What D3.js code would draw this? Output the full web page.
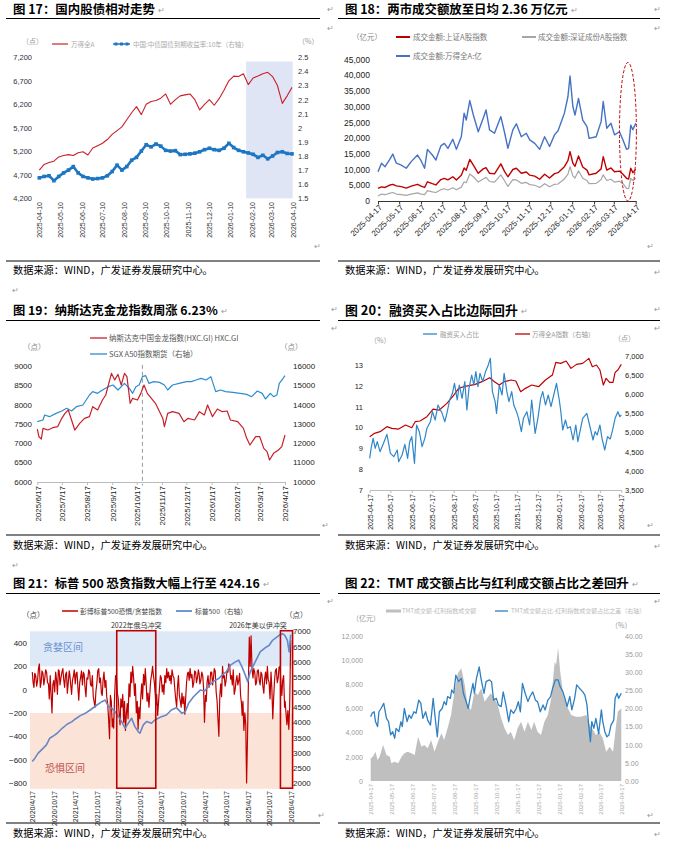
<!DOCTYPE html>
<html><head><meta charset="utf-8">
<script src="https://cdn.jsdelivr.net/npm/d3@7/dist/d3.min.js"></script>
<style>html,body{margin:0;padding:0;background:#fff;}svg{display:block;}</style>
</head><body>
<svg id="page" width="677" height="842"></svg>
<script>
// ================= DATA =================
const SOURCE = "数据来源：WIND，广发证券发展研究中心。";
const titles = [
  "图 17：国内股债相对走势",
  "图 18：两市成交额放至日均 2.36 万亿元",
  "图 19：纳斯达克金龙指数周涨 6.23%",
  "图 20：融资买入占比边际回升",
  "图 21：标普 500 恐贪指数大幅上行至 424.16",
  "图 22：TMT 成交额占比与红利成交额占比之差回升"
];

// --- Fig 17 ---
const c17Ticks = ["2025-04-10","2025-05-10","2025-06-10","2025-07-10","2025-08-10","2025-09-10","2025-10-10","2025-11-10","2025-12-10","2026-01-10","2026-02-10","2026-03-10","2026-04-10"];
const c17LeftTicks = [4200,4700,5200,5700,6200,6700,7200];
const c17RightTicks = [1.5,1.6,1.7,1.8,1.9,2,2.1,2.2,2.3,2.4,2.5];
const c17Dates = ["2025-04-10","2025-04-17","2025-04-24","2025-05-01","2025-05-08","2025-05-15","2025-05-22","2025-05-29","2025-06-05","2025-06-12","2025-06-19","2025-06-26","2025-07-03","2025-07-10","2025-07-17","2025-07-24","2025-07-31","2025-08-07","2025-08-14","2025-08-21","2025-08-28","2025-09-04","2025-09-11","2025-09-18","2025-09-25","2025-10-02","2025-10-09","2025-10-16","2025-10-23","2025-10-30","2025-11-06","2025-11-13","2025-11-20","2025-11-27","2025-12-04","2025-12-11","2025-12-18","2025-12-25","2026-01-01","2026-01-08","2026-01-15","2026-01-22","2026-01-29","2026-02-05","2026-02-12","2026-02-19","2026-02-26","2026-03-05","2026-03-12","2026-03-19","2026-03-26","2026-04-02","2026-04-09"];
const c17Wind = [4800,4920,4960,4990,5080,5110,5130,5110,5170,5190,5120,5270,5320,5370,5450,5560,5640,5720,5870,6020,6150,5980,6200,6260,6280,6330,6420,6200,6300,6380,6400,6420,6300,6080,6200,6300,6180,6320,6500,6700,6800,6790,6850,6620,6760,6800,6850,6880,6790,6600,6220,6380,6560];
const c17Bond = [1.645,1.655,1.66,1.625,1.655,1.68,1.70,1.725,1.68,1.655,1.645,1.637,1.64,1.645,1.66,1.69,1.735,1.70,1.725,1.77,1.79,1.835,1.88,1.865,1.885,1.87,1.84,1.835,1.838,1.81,1.812,1.815,1.82,1.83,1.845,1.855,1.845,1.84,1.855,1.89,1.86,1.84,1.83,1.822,1.812,1.79,1.805,1.78,1.80,1.825,1.83,1.818,1.815];
const c17Shade = ["2026-02-02","2026-04-10"];

// --- shared monthly ticks (Fig 18, 20, 22) ---
const month17Ticks = ["2025-04-17","2025-05-17","2025-06-17","2025-07-17","2025-08-17","2025-09-17","2025-10-17","2025-11-17","2025-12-17","2026-01-17","2026-02-17","2026-03-17","2026-04-17"];

// --- Fig 18 ---
const c18LeftTicks = [0,5000,10000,15000,20000,25000,30000,35000,40000,45000];
const c18Dates = ["2025-04-17","2025-04-22","2025-04-27","2025-05-03","2025-05-08","2025-05-13","2025-05-20","2025-05-27","2025-06-03","2025-06-12","2025-06-17","2025-06-22","2025-06-26","2025-07-03","2025-07-08","2025-07-15","2025-07-20","2025-07-25","2025-08-01","2025-08-06","2025-08-13","2025-08-17","2025-08-20","2025-08-25","2025-08-30","2025-09-06","2025-09-13","2025-09-17","2025-09-22","2025-09-29","2025-10-08","2025-10-13","2025-10-18","2025-10-25","2025-10-30","2025-11-06","2025-11-13","2025-11-18","2025-11-25","2025-12-02","2025-12-09","2025-12-16","2025-12-23","2025-12-28","2026-01-06","2026-01-11","2026-01-14","2026-01-18","2026-01-21","2026-01-26","2026-02-01","2026-02-07","2026-02-10","2026-02-20","2026-02-27","2026-03-02","2026-03-07","2026-03-13","2026-03-18","2026-03-25","2026-03-30","2026-04-04","2026-04-07","2026-04-10","2026-04-13","2026-04-17"];
const c18Total = [9300,12000,10900,13000,14900,12000,11400,10400,12500,14600,12800,10400,16400,14600,13000,17500,18300,16700,19600,16400,20400,27900,25700,31900,27300,22000,26300,28900,22600,21500,26800,22000,16700,22600,24500,20400,21500,19400,18300,16400,20400,17300,21000,22300,27900,33100,39700,30000,27300,32600,25700,23600,19900,20400,25200,31600,23100,24700,21000,22000,19400,16400,16700,24100,22600,24700];
const c18SH = [4000,4500,4300,5000,5300,4800,4550,4100,4700,5300,4700,4300,6100,5500,5100,6800,7200,6700,7700,6700,8200,10500,9800,13200,11400,8800,10200,10600,8800,8600,11800,9500,7700,10000,10400,8800,9200,8200,7900,6900,8500,7300,8700,9000,10900,12800,15700,12000,11000,14300,10800,9800,8300,8800,10200,14100,9800,10500,9300,9500,8500,7200,7000,10400,9000,10100];
const c18SZ = [1600,2200,2000,2400,2700,2200,2000,1800,2200,2600,2200,2000,3300,2900,2700,3600,3900,3500,4200,3600,4400,6100,5800,8600,7700,6000,7000,7500,6200,6000,8300,6500,4600,6800,6700,5600,5900,5200,5000,4300,5500,4500,5300,5400,7000,8500,10900,8000,7300,9600,7200,6500,5500,5600,6800,8300,6500,6900,6000,6300,5500,4000,3900,7200,6500,7200];
const c18Ellipse = {dates: ["2026-03-25","2026-04-18"], values: [0, 44000]};

// --- Fig 19 ---
const c19Ticks = ["2025-06-17","2025-07-17","2025-08-17","2025-09-17","2025-10-17","2025-11-17","2025-12-17","2026-01-17","2026-02-17","2026-03-17","2026-04-17"];
const c19TickLabels = ["2025/6/17","2025/7/17","2025/8/17","2025/9/17","2025/10/17","2025/11/17","2025/12/17","2026/1/17","2026/2/17","2026/3/17","2026/4/17"];
const c19LeftTicks = [6000,6500,7000,7500,8000,8500,9000];
const c19RightTicks = [10000,11000,12000,13000,14000,15000,16000];
const c19Marker = "2025-10-24";
const c19Hxc = [["2025-06-17",7366],["2025-06-19",7167],["2025-06-22",7107],["2025-06-24",7383],["2025-06-30",7340],["2025-07-06",7400],["2025-07-12",7427],["2025-07-17",7643],["2025-07-21",7772],["2025-07-25",7860],["2025-07-29",7600],["2025-08-02",7340],["2025-08-08",7513],["2025-08-14",7643],["2025-08-20",7686],["2025-08-24",7945],["2025-08-30",7860],["2025-09-05",8118],["2025-09-09",8248],["2025-09-16",8810],["2025-09-20",8637],["2025-09-24",8784],["2025-09-28",8507],["2025-10-02",8810],["2025-10-05",8724],["2025-10-09",8032],["2025-10-12",8162],["2025-10-18",8118],["2025-10-22",8290],["2025-10-26",8507],["2025-10-30",8290],["2025-11-04",8162],["2025-11-09",8032],["2025-11-13",7860],["2025-11-18",7643],["2025-11-20",7427],["2025-11-24",7772],["2025-11-30",7816],["2025-12-08",7772],["2025-12-14",7556],["2025-12-19",7643],["2025-12-27",7600],["2026-01-02",7816],["2026-01-08",7730],["2026-01-12",7989],["2026-01-18",7686],["2026-01-24",7885],["2026-01-30",7816],["2026-02-05",7833],["2026-02-09",7600],["2026-02-18",7556],["2026-02-25",7383],["2026-03-01",7124],["2026-03-05",6951],["2026-03-12",7167],["2026-03-17",7167],["2026-03-22",6865],["2026-03-26",6778],["2026-03-29",6562],["2026-04-03",6735],["2026-04-09",6821],["2026-04-13",6908],["2026-04-17",7210]];
const c19A50 = [["2025-06-17",13112],["2025-06-24",13199],["2025-06-26",13458],["2025-07-02",13372],["2025-07-10",13545],["2025-07-17",13666],["2025-07-23",13804],["2025-07-29",13666],["2025-08-04",13890],["2025-08-12",13977],["2025-08-20",14495],["2025-08-24",14668],["2025-08-30",14582],["2025-09-05",14755],["2025-09-12",14928],["2025-09-18",15014],["2025-09-24",14755],["2025-10-02",15100],["2025-10-08",14841],["2025-10-12",14582],["2025-10-16",14928],["2025-10-20",15014],["2025-10-24",15446],["2025-10-28",15498],["2025-11-01",15100],["2025-11-07",15187],["2025-11-14",15152],["2025-11-20",15014],["2025-11-24",14755],["2025-11-30",15014],["2025-12-08",15100],["2025-12-17",15187],["2025-12-23",15187],["2025-12-29",15273],["2026-01-04",15360],["2026-01-10",15273],["2026-01-16",15446],["2026-01-22",14668],["2026-01-28",14755],["2026-02-03",14668],["2026-02-12",14634],["2026-02-21",14582],["2026-03-01",14530],["2026-03-07",14409],["2026-03-14",14703],["2026-03-20",14582],["2026-03-24",14288],["2026-03-30",14582],["2026-04-03",14409],["2026-04-07",14495],["2026-04-10",15100],["2026-04-14",15325],["2026-04-17",15498]];

// --- Fig 20 ---
const c20LeftTicks = [7,8,9,10,11,12,13];
const c20RightTicks = [3500,4000,4500,5000,5500,6000,6500,7000];
const c20Margin = [["2025-04-17",8.52],["2025-04-19",9.0],["2025-04-22",9.48],["2025-04-25",9.0],["2025-04-28",9.32],["2025-05-02",8.84],["2025-05-07",9.24],["2025-05-12",9.67],["2025-05-14",9.32],["2025-05-17",8.76],["2025-05-22",8.6],["2025-05-27",8.92],["2025-05-29",8.36],["2025-06-03",8.68],["2025-06-07",9.19],["2025-06-11",8.52],["2025-06-14",9.32],["2025-06-17",9.56],["2025-06-21",8.28],["2025-06-24",10.12],["2025-06-28",9.8],["2025-07-02",9.08],["2025-07-06",9.48],["2025-07-09",9.96],["2025-07-14",10.28],["2025-07-17",10.76],["2025-07-21",10.36],["2025-07-25",11.08],["2025-07-31",10.68],["2025-08-04",10.28],["2025-08-07",10.68],["2025-08-11",11.32],["2025-08-15",11.64],["2025-08-18",12.12],["2025-08-22",11.32],["2025-08-25",12.04],["2025-08-29",11.4],["2025-09-02",12.2],["2025-09-05",10.84],["2025-09-08",11.88],["2025-09-12",12.52],["2025-09-15",12.04],["2025-09-18",12.68],["2025-09-21",11.96],["2025-09-24",12.6],["2025-09-28",12.2],["2025-10-02",12.68],["2025-10-06",13.0],["2025-10-09",13.32],["2025-10-12",11.72],["2025-10-16",11.24],["2025-10-18",10.68],["2025-10-22",12.04],["2025-10-26",11.56],["2025-10-29",12.6],["2025-11-02",11.72],["2025-11-05",11.24],["2025-11-09",11.72],["2025-11-12",11.08],["2025-11-16",10.76],["2025-11-19",10.44],["2025-11-23",9.8],["2025-11-26",10.44],["2025-12-01",10.76],["2025-12-05",10.12],["2025-12-08",11.32],["2025-12-13",9.72],["2025-12-17",10.44],["2025-12-21",11.4],["2025-12-24",11.72],["2025-12-28",11.08],["2026-01-01",11.56],["2026-01-05",11.0],["2026-01-09",11.56],["2026-01-13",12.12],["2026-01-17",11.32],["2026-01-19",10.84],["2026-01-22",9.88],["2026-01-26",10.36],["2026-01-29",9.96],["2026-02-02",10.04],["2026-02-06",9.4],["2026-02-10",10.12],["2026-02-13",9.32],["2026-02-17",9.96],["2026-02-20",10.44],["2026-02-26",10.68],["2026-03-02",10.12],["2026-03-07",9.4],["2026-03-10",9.8],["2026-03-13",9.64],["2026-03-17",10.12],["2026-03-20",9.48],["2026-03-24",8.92],["2026-03-28",9.56],["2026-04-01",9.45],["2026-04-04",9.83],["2026-04-08",10.44],["2026-04-12",10.76],["2026-04-15",10.52],["2026-04-17",10.6]];
const c20Wind = [["2025-04-17",4890],["2025-04-24",4976],["2025-05-02",5020],["2025-05-12",5150],["2025-05-19",5107],["2025-05-29",5089],["2025-06-08",5194],["2025-06-17",5124],["2025-06-22",5280],["2025-06-29",5298],["2025-07-09",5411],["2025-07-18",5610],["2025-07-27",5584],["2025-08-07",5758],["2025-08-17",5975],["2025-08-24",6149],["2025-08-31",6192],["2025-09-08",6218],["2025-09-17",6253],["2025-09-27",6323],["2025-10-08",6427],["2025-10-15",6323],["2025-10-22",6236],["2025-10-29",6323],["2025-11-08",6366],["2025-11-15",6340],["2025-11-22",6062],["2025-11-29",6149],["2025-12-08",6236],["2025-12-18",6192],["2025-12-28",6366],["2026-01-07",6496],["2026-01-12",6826],["2026-01-19",6800],["2026-01-27",6861],["2026-02-03",6670],["2026-02-11",6774],["2026-02-20",6800],["2026-03-01",6930],["2026-03-06",6713],["2026-03-12",6757],["2026-03-17",6627],["2026-03-22",6236],["2026-03-26",6410],["2026-03-31",6305],["2026-04-05",6305],["2026-04-08",6566],["2026-04-12",6627],["2026-04-17",6774]];

// --- Fig 21 ---
const c21Ticks = ["2020-04-17","2020-10-17","2021-04-17","2021-10-17","2022-04-17","2022-10-17","2023-04-17","2023-10-17","2024-04-17","2024-10-17","2025-04-17","2025-10-17","2026-04-17"];
const c21TickLabels = ["2020/4/17","2020/10/17","2021/4/17","2021/10/17","2022/4/17","2022/10/17","2023/4/17","2023/10/17","2024/4/17","2024/10/17","2025/4/17","2025/10/17","2026/4/17"];
const c21LeftTicks = [-800,-600,-400,-200,0,200,400];
const c21RightTicks = [2000,2500,3000,3500,4000,4500,5000,5500,6000,6500,7000];
const c21GreedBand = [200, 500];
const c21FearBand = [-850, -200];
const c21Boxes = [["2022-04-03","2023-02-28"],["2026-01-20","2026-05-03"]];
const c21Events = ["2022年俄乌冲突","2026年美以伊冲突"];
const c21FG = [
["2020-04-17",150],["2020-04-24",60],["2020-05-01",20],["2020-05-08",140],["2020-05-16",120],["2020-05-24",30],["2020-06-01",80],["2020-06-08",180],["2020-06-16",220],["2020-06-24",20],["2020-07-01",60],["2020-07-08",160],["2020-07-16",140],["2020-07-24",40],["2020-08-01",100],["2020-08-08",170],["2020-08-16",150],["2020-08-24",60],["2020-09-01",50],["2020-09-08",-80],["2020-09-16",120],["2020-09-24",-60],["2020-10-01",-200],["2020-10-08",40],["2020-10-16",80],["2020-10-24",-20],["2020-11-01",150],["2020-11-08",90],["2020-11-16",-40],["2020-11-24",170],["2020-12-01",160],["2020-12-08",40],["2020-12-16",100],["2020-12-24",150],
["2021-01-01",180],["2021-01-08",90],["2021-01-16",20],["2021-01-24",130],["2021-02-01",150],["2021-02-08",-30],["2021-02-16",60],["2021-02-24",160],["2021-03-01",130],["2021-03-08",50],["2021-03-16",-40],["2021-03-24",80],["2021-04-01",120],["2021-04-08",170],["2021-04-16",50],["2021-04-24",140],["2021-05-01",150],["2021-05-08",30],["2021-05-16",-90],["2021-05-24",60],["2021-06-01",110],["2021-06-08",160],["2021-06-16",40],["2021-06-24",150],["2021-07-01",130],["2021-07-08",20],["2021-07-16",-60],["2021-07-24",100],["2021-08-01",90],["2021-08-08",170],["2021-08-16",150],["2021-08-24",40],["2021-09-01",30],["2021-09-08",120],["2021-09-16",-60],["2021-09-24",-110],["2021-10-01",-150],["2021-10-08",-20],["2021-10-16",50],["2021-10-24",160],["2021-11-01",180],["2021-11-08",60],["2021-11-16",100],["2021-11-24",-30],["2021-12-01",-50],["2021-12-08",80],["2021-12-16",150],["2021-12-24",20],
["2022-01-01",80],["2022-01-08",-60],["2022-01-16",-120],["2022-01-24",-250],["2022-02-01",-420],["2022-02-08",-50],["2022-02-16",-100],["2022-02-24",-320],["2022-03-01",-250],["2022-03-08",-330],["2022-03-16",-50],["2022-03-24",120],["2022-04-01",100],["2022-04-08",-30],["2022-04-16",-80],["2022-04-24",-220],["2022-05-01",-300],["2022-05-08",-80],["2022-05-16",-150],["2022-05-24",-40],["2022-06-01",-280],["2022-06-08",-100],["2022-06-16",-350],["2022-06-24",-200],["2022-07-01",-120],["2022-07-08",-250],["2022-07-16",50],["2022-07-24",-60],["2022-08-01",150],["2022-08-08",60],["2022-08-16",200],["2022-08-24",100],["2022-09-01",-50],["2022-09-08",50],["2022-09-16",-200],["2022-09-24",-100],["2022-10-01",-340],["2022-10-08",-150],["2022-10-16",-250],["2022-10-24",-60],["2022-11-01",50],["2022-11-08",-80],["2022-11-16",130],["2022-11-24",40],["2022-12-01",180],["2022-12-08",60],["2022-12-16",-100],["2022-12-24",-30],
["2023-01-01",-150],["2023-01-08",-40],["2023-01-16",80],["2023-01-24",130],["2023-02-01",200],["2023-02-08",120],["2023-02-16",60],["2023-02-24",-50],["2023-03-01",-130],["2023-03-08",-40],["2023-03-16",-220],["2023-03-24",-100],["2023-04-01",20],["2023-04-08",120],["2023-04-16",100],["2023-04-24",-20],["2023-05-01",40],["2023-05-08",-40],["2023-05-16",120],["2023-05-24",60],["2023-06-01",180],["2023-06-08",100],["2023-06-16",150],["2023-06-24",80],["2023-07-01",120],["2023-07-08",50],["2023-07-16",170],["2023-07-24",120],["2023-08-01",100],["2023-08-08",10],["2023-08-16",-80],["2023-08-24",-150],["2023-09-01",30],["2023-09-08",120],["2023-09-16",-50],["2023-09-24",-100],["2023-10-01",-150],["2023-10-08",-30],["2023-10-16",-120],["2023-10-24",-60],["2023-11-01",-210],["2023-11-08",-80],["2023-11-16",60],["2023-11-24",140],["2023-12-01",150],["2023-12-08",80],["2023-12-16",180],["2023-12-24",100],
["2024-01-01",130],["2024-01-08",20],["2024-01-16",60],["2024-01-24",160],["2024-02-01",150],["2024-02-08",60],["2024-02-16",100],["2024-02-24",170],["2024-03-01",140],["2024-03-08",50],["2024-03-16",80],["2024-03-24",150],["2024-04-01",120],["2024-04-08",20],["2024-04-16",-280],["2024-04-24",-50],["2024-05-01",-100],["2024-05-08",60],["2024-05-16",120],["2024-05-24",20],["2024-06-01",60],["2024-06-08",150],["2024-06-16",150],["2024-06-24",40],["2024-07-01",100],["2024-07-08",180],["2024-07-16",160],["2024-07-24",-20],["2024-08-01",-100],["2024-08-08",-250],["2024-08-16",-400],["2024-08-24",-50],["2024-09-01",50],["2024-09-08",-60],["2024-09-16",200],["2024-09-24",100],["2024-10-01",120],["2024-10-08",30],["2024-10-16",80],["2024-10-24",160],["2024-11-01",150],["2024-11-08",220],["2024-11-16",200],["2024-11-24",90],["2024-12-01",120],["2024-12-08",40],["2024-12-16",170],["2024-12-24",-40],
["2025-01-01",0],["2025-01-08",70],["2025-01-16",120],["2025-01-24",40],["2025-02-01",80],["2025-02-08",140],["2025-02-16",-50],["2025-02-24",-120],["2025-03-01",-220],["2025-03-08",-100],["2025-03-16",-350],["2025-03-24",-200],["2025-04-01",-300],["2025-04-08",-800],["2025-04-16",-400],["2025-04-24",100],["2025-05-01",450],["2025-05-08",200],["2025-05-16",460],["2025-05-24",180],["2025-06-01",100],["2025-06-08",180],["2025-06-16",150],["2025-06-24",40],["2025-07-01",60],["2025-07-08",160],["2025-07-16",170],["2025-07-24",80],["2025-08-01",40],["2025-08-08",150],["2025-08-16",130],["2025-08-24",30],["2025-09-01",-30],["2025-09-08",90],["2025-09-16",150],["2025-09-24",50],["2025-10-01",200],["2025-10-08",90],["2025-10-16",60],["2025-10-24",-80],["2025-11-01",150],["2025-11-08",20],["2025-11-16",-250],["2025-11-24",-60],["2025-12-01",80],["2025-12-08",160],["2025-12-16",180],["2025-12-24",60],
["2026-01-01",100],["2026-01-08",190],["2026-01-16",200],["2026-01-24",50],["2026-02-01",-50],["2026-02-08",80],["2026-02-16",120],["2026-02-24",-150],["2026-03-01",-100],["2026-03-08",-200],["2026-03-16",-300],["2026-03-24",-180],["2026-04-01",-340],["2026-04-08",-150],["2026-04-17",424.16]];
const c21SPX = [["2020-04-17",2711],["2020-05-09",2820],["2020-06-06",2985],["2020-07-04",3094],["2020-08-15",3258],["2020-09-12",3477],["2020-10-17",3564],["2020-11-14",3641],["2020-12-26",3805],["2021-02-06",3937],["2021-03-20",4024],["2021-04-17",4111],["2021-05-29",4221],["2021-07-10",4297],["2021-08-21",4407],["2021-10-17",4571],["2021-11-28",4680],["2021-12-26",4735],["2022-01-23",4516],["2022-02-20",4461],["2022-03-20",4352],["2022-04-17",4188],["2022-05-15",4024],["2022-06-12",3805],["2022-07-10",3969],["2022-08-07",4133],["2022-09-04",3860],["2022-10-02",3695],["2022-10-17",3641],["2022-11-14",3915],["2022-12-12",4024],["2023-01-23",3969],["2023-02-20",4078],["2023-04-17",4188],["2023-05-29",4243],["2023-07-10",4407],["2023-08-21",4483],["2023-10-08",4297],["2023-11-05",4352],["2023-12-03",4626],["2024-01-14",4844],["2024-03-11",5063],["2024-04-17",5030],["2024-05-23",5205],["2024-07-04",5359],["2024-08-15",5446],["2024-09-12",5556],["2024-10-17",5665],["2024-11-22",5884],["2025-01-03",5993],["2025-01-31",6048],["2025-02-28",5829],["2025-03-28",5556],["2025-04-17",5337],["2025-05-09",5665],["2025-06-20",5993],["2025-08-01",6321],["2025-09-12",6453],["2025-10-17",6540],["2025-11-14",6704],["2025-12-12",6781],["2026-01-09",6868],["2026-02-06",6923],["2026-02-26",6868],["2026-03-20",6704],["2026-04-04",6321],["2026-04-17",6890]];

// --- Fig 22 ---
const c22LeftTicks = [0,2000,4000,6000,8000,10000,12000];
const c22RightTicks = [0,5,10,15,20,25,30,35,40];
const c22Diff = [["2025-04-17",1876],["2025-04-20",2014],["2025-04-24",2428],["2025-04-27",1738],["2025-04-30",2014],["2025-05-05",2980],["2025-05-10",2152],["2025-05-15",2014],["2025-05-17",1462],["2025-05-22",1600],["2025-05-27",1462],["2025-06-01",2014],["2025-06-05",2290],["2025-06-10",2428],["2025-06-15",2290],["2025-06-20",2152],["2025-06-25",3669],["2025-06-30",2842],["2025-07-04",2980],["2025-07-09",2704],["2025-07-14",3394],["2025-07-19",2428],["2025-07-24",3256],["2025-07-29",3945],["2025-08-02",3394],["2025-08-07",4359],["2025-08-12",5463],["2025-08-17",7394],["2025-08-22",8911],["2025-08-27",9325],["2025-09-01",7946],["2025-09-05",6290],["2025-09-10",5877],["2025-09-15",7394],["2025-09-20",7118],["2025-09-25",7670],["2025-09-30",6566],["2025-10-05",6980],["2025-10-09",7256],["2025-10-14",6842],["2025-10-19",6290],["2025-10-24",5187],["2025-10-29",4359],["2025-11-03",3807],["2025-11-07",4083],["2025-11-12",3394],["2025-11-17",4359],["2025-11-22",4911],["2025-11-27",4083],["2025-12-02",4911],["2025-12-07",4221],["2025-12-11",4911],["2025-12-16",4083],["2025-12-21",3807],["2025-12-26",4911],["2025-12-31",5463],["2026-01-05",6842],["2026-01-10",9877],["2026-01-12",9601],["2026-01-15",11036],["2026-01-18",9049],["2026-01-22",7394],["2026-01-27",6290],["2026-02-03",5463],["2026-02-10",5325],["2026-02-17",5325],["2026-02-25",5463],["2026-03-02",4635],["2026-03-07",4221],["2026-03-11",3807],["2026-03-16",4083],["2026-03-21",3532],["2026-03-26",2428],["2026-03-31",2842],["2026-04-05",2428],["2026-04-07",3394],["2026-04-10",4911],["2026-04-12",5739],["2026-04-17",6015]];
const c22Share = [["2025-04-17",17.75],["2025-04-19",18.67],["2025-04-22",19.1],["2025-04-24",16.4],["2025-04-27",15.0],["2025-04-29",19.1],["2025-05-02",20.0],["2025-05-06",21.4],["2025-05-10",17.3],["2025-05-13",16.4],["2025-05-16",12.7],["2025-05-19",13.6],["2025-05-22",11.8],["2025-05-24",14.5],["2025-05-28",13.6],["2025-05-31",16.4],["2025-06-02",15.0],["2025-06-05",20.0],["2025-06-09",16.4],["2025-06-12",18.2],["2025-06-15",17.3],["2025-06-19",19.1],["2025-06-22",18.67],["2025-06-26",22.3],["2025-06-29",21.4],["2025-07-02",17.3],["2025-07-06",19.1],["2025-07-09",16.8],["2025-07-13",15.4],["2025-07-17",22.8],["2025-07-20",17.3],["2025-07-23",12.2],["2025-07-26",19.1],["2025-07-30",20.0],["2025-08-02",21.9],["2025-08-05",21.0],["2025-08-07",23.3],["2025-08-11",22.8],["2025-08-13",25.1],["2025-08-16",24.2],["2025-08-19",29.2],["2025-08-23",27.4],["2025-08-27",28.3],["2025-08-30",24.2],["2025-09-03",21.9],["2025-09-06",20.0],["2025-09-09",23.3],["2025-09-13",26.9],["2025-09-15",24.2],["2025-09-18",28.3],["2025-09-22",31.5],["2025-09-25",27.9],["2025-09-29",24.2],["2025-10-02",27.4],["2025-10-07",27.9],["2025-10-10",27.4],["2025-10-13",22.3],["2025-10-17",22.8],["2025-10-20",21.0],["2025-10-24",20.5],["2025-10-27",24.6],["2025-10-31",21.0],["2025-11-04",16.4],["2025-11-07",19.6],["2025-11-11",18.67],["2025-11-15",20.0],["2025-11-18",21.9],["2025-11-21",19.1],["2025-11-24",26.9],["2025-11-28",24.2],["2025-12-02",21.9],["2025-12-05",23.3],["2025-12-09",24.6],["2025-12-13",22.3],["2025-12-16",21.9],["2025-12-20",19.1],["2025-12-24",21.0],["2025-12-27",19.6],["2025-12-31",22.3],["2026-01-04",23.3],["2026-01-07",25.6],["2026-01-11",27.9],["2026-01-15",27.9],["2026-01-18",26.0],["2026-01-22",24.6],["2026-01-25",22.8],["2026-01-28",20.5],["2026-02-01",23.3],["2026-02-04",19.6],["2026-02-08",22.8],["2026-02-11",26.5],["2026-02-15",25.6],["2026-02-20",24.6],["2026-02-23",23.7],["2026-02-26",21.0],["2026-02-28",16.4],["2026-03-03",10.85],["2026-03-05",16.4],["2026-03-08",14.5],["2026-03-11",17.3],["2026-03-15",13.1],["2026-03-19",19.6],["2026-03-21",16.4],["2026-03-24",13.6],["2026-03-27",12.2],["2026-03-30",12.7],["2026-04-02",15.4],["2026-04-06",16.8],["2026-04-08",22.8],["2026-04-11",24.2],["2026-04-13",22.8],["2026-04-17",24.2]];

// ================= DRAW =================
const svg = d3.select("#page");
const parse = d3.timeParse("%Y-%m-%d");
const SANS = "'Liberation Sans', Arial, sans-serif";
const CJK = "'Noto Sans CJK SC', 'Noto Sans', sans-serif";
const zip = (ds, vs) => ds.map((d, i) => [d, vs[i]]);

function txt(x, y, s, o) {
  o = o || {};
  return svg.append("text").attr("x", x).attr("y", y).text(s)
    .attr("font-family", o.family || CJK).attr("font-size", o.size || 10)
    .attr("font-weight", o.weight || "normal").attr("fill", o.color || "#000")
    .attr("text-anchor", o.anchor || "start")
    .attr("dominant-baseline", o.base || "alphabetic");
}
function rule(x1, x2, y) {
  svg.append("line").attr("x1", x1).attr("x2", x2).attr("y1", y).attr("y2", y)
    .attr("stroke", "#000").attr("stroke-width", 1);
}
function mark(x, y) { txt(x, y, "↵", {size: 8, color: "#999", family: SANS}); }
// fit a text to a target width by adjusting its font size
function fitText(t, base, w) {
  const len = t.node().getComputedTextLength();
  if (len > 0) t.attr("font-size", Math.min(base, base * w / len));
  return t.node().getComputedTextLength();
}
function frame(x1, x2, tY, lY, bY, sY, title, w) {
  const t = txt(x1 + 7, tY, title, {size: 13, weight: "bold"});
  const tw = fitText(t, 13, w);
  mark(x1 + 7 + tw + 3, tY - 1);
  rule(x1, x2, lY);
  rule(x1, x2, bY);
  const s = txt(x1 + 7, sY, SOURCE, {size: 10.5});
  fitText(s, 10.5, 200);
}
function yAxis(scale, ticks, fmt, x, side, o) {
  const a = (side === "left" ? d3.axisLeft(scale) : d3.axisRight(scale))
    .tickValues(ticks).tickFormat(fmt).tickSize(0).tickPadding(0);
  const g = svg.append("g").attr("transform", `translate(${x},0)`).call(a);
  g.select(".domain").remove();
  g.selectAll("text").attr("font-family", SANS).attr("font-size", o.size).attr("fill", o.color);
}
function xAxis(scale, tickDates, labels, y, o) {
  const a = d3.axisBottom(scale).tickValues(tickDates.map(parse))
    .tickFormat((d, i) => labels[i]).tickSize(o.tick || 0).tickSizeOuter(0).tickPadding(0);
  const g = svg.append("g").attr("transform", `translate(0,${y})`).call(a);
  if (o.line) {
    g.select(".domain").attr("stroke", o.line);
    g.selectAll(".tick line").attr("stroke", o.line);
  } else {
    g.select(".domain").remove();
    g.selectAll(".tick line").remove();
  }
  g.selectAll("text").attr("font-family", SANS).attr("font-size", o.size).attr("fill", o.color)
    .attr("text-anchor", "end").attr("transform", `rotate(${o.rot})`)
    .attr("x", o.lx).attr("y", o.ly).attr("dy", "0.35em");
}
function path(data, x, y, color, w) {
  return svg.append("path").datum(data).attr("fill", "none").attr("stroke", color)
    .attr("stroke-width", w).attr("stroke-linejoin", "round")
    .attr("d", d3.line().x(d => x(parse(d[0]))).y(d => y(d[1])));
}
function legLine(x1, x2, y, color, w) {
  svg.append("line").attr("x1", x1).attr("x2", x2).attr("y1", y).attr("y2", y)
    .attr("stroke", color).attr("stroke-width", w);
}

// ---------- Frames ----------
frame(6, 320, 14, 18.5, 261, 274, titles[0], 142);
frame(338, 660, 14, 18.5, 261, 274, titles[1], 223);
frame(6, 320, 315, 320.5, 535, 549, titles[2], 205);
frame(338, 660, 315, 320.5, 535, 549, titles[3], 173);
frame(6, 320, 588, 593.5, 823, 837, titles[4], 247);
frame(338, 660, 588, 593.5, 823, 837, titles[5], 284);
[[327,12],[327,31],[314,249],[654,12],[654,31],[647,249],[654,275],
 [12,293],[331,312],[331,331],[322,528],[654,312],[654,331],[647,528],[654,549],
 [12,568],[327,604],[318,818],[654,604],[647,818],[654,837]]
  .forEach(p => mark(p[0], p[1]));

// ---------- Fig 17 ----------
{
  const x = d3.scaleTime().domain([parse("2025-04-10"), parse("2026-04-10")]).range([39.3, 292.7]);
  const yL = d3.scaleLinear().domain([4200, 7200]).range([198.3, 57.3]);
  const yR = d3.scaleLinear().domain([1.5, 2.5]).range([198.3, 57.3]);
  const s0 = x(parse(c17Shade[0])), s1 = x(parse(c17Shade[1]));
  svg.append("rect").attr("x", s0).attr("width", s1 - s0).attr("y", yR(2.47))
    .attr("height", yR(1.5) - yR(2.47)).attr("fill", "#dfe5f4");
  yAxis(yL, c17LeftTicks, d3.format(","), 32, "left", {size: 7.5, color: "#333"});
  yAxis(yR, c17RightTicks, d => String(d), 298, "right", {size: 7.5, color: "#333"});
  xAxis(x, c17Ticks, c17Ticks, 201, {size: 7, color: "#333", rot: -90, lx: -1, ly: 0});
  path(zip(c17Dates, c17Wind), x, yL, "#c8202a", 1.1);
  const bond = zip(c17Dates, c17Bond);
  path(bond, x, yR, "#1d76c2", 2.6);
  svg.append("g").selectAll("rect").data(bond).join("rect")
    .attr("x", d => x(parse(d[0])) - 1.8).attr("y", d => yR(d[1]) - 1.8)
    .attr("width", 3.6).attr("height", 3.6).attr("fill", "#1d76c2");
  txt(22, 44, "（点）", {size: 7, color: "#999"});
  txt(298, 44, "（%）", {size: 7, color: "#999"});
  legLine(52, 68, 44, "#c8202a", 1.2);
  txt(71, 46.5, "万得全A", {size: 6.5, color: "#aaa"});
  legLine(113, 130, 44, "#1d76c2", 1.5);
  [116, 121.5, 127].forEach(px => svg.append("rect").attr("x", px - 1.5).attr("y", 42.5).attr("width", 3).attr("height", 3).attr("fill", "#1d76c2"));
  txt(133, 46.5, "中国:中债国债到期收益率:10年（右轴）", {size: 6.5, color: "#aaa"});
}

// ---------- Fig 18 ----------
{
  const x = d3.scaleTime().domain([parse("2025-04-17"), parse("2026-04-17")]).range([378, 635.7]);
  const y = d3.scaleLinear().domain([0, 45000]).range([201, 59.3]);
  yAxis(y, c18LeftTicks, d3.format(","), 370, "left", {size: 8.5, color: "#222"});
  xAxis(x, month17Ticks, month17Ticks, 201, {size: 8, color: "#222", rot: -45, lx: -2, ly: 5, line: "#333", tick: 3});
  path(zip(c18Dates, c18SZ), x, y, "#a6a6a6", 1.2);
  path(zip(c18Dates, c18SH), x, y, "#c00000", 1.4);
  path(zip(c18Dates, c18Total), x, y, "#4472c4", 1.4);
  const ex0 = x(parse(c18Ellipse.dates[0])), ex1 = x(parse(c18Ellipse.dates[1]));
  const ey0 = y(c18Ellipse.values[1]), ey1 = y(c18Ellipse.values[0]);
  svg.append("ellipse").attr("cx", (ex0 + ex1) / 2).attr("cy", (ey0 + ey1) / 2)
    .attr("rx", (ex1 - ex0) / 2).attr("ry", (ey1 - ey0) / 2)
    .attr("fill", "none").attr("stroke", "#c00000").attr("stroke-width", 1).attr("stroke-dasharray", "3,2");
  txt(352, 39.5, "（亿元）", {size: 7.5, color: "#888"});
  legLine(396, 410, 37, "#c00000", 2);
  txt(413, 40, "成交金额:上证A股指数", {size: 7.5, color: "#777"});
  legLine(522, 536, 37, "#a6a6a6", 2);
  txt(538, 40, "成交金额:深证成份A股指数", {size: 7.5, color: "#777"});
  legLine(396, 410, 56, "#4472c4", 2);
  txt(413, 59, "成交金额:万得全A:亿", {size: 7.5, color: "#777"});
}

// ---------- Fig 19 ----------
{
  const x = d3.scaleTime().domain([parse("2025-06-17"), parse("2026-04-17")]).range([37.3, 285]);
  const yL = d3.scaleLinear().domain([6000, 9000]).range([481.7, 366]);
  const yR = d3.scaleLinear().domain([10000, 16000]).range([481.7, 366]);
  yAxis(yL, c19LeftTicks, d3.format("d"), 32, "left", {size: 8, color: "#222"});
  yAxis(yR, c19RightTicks, d3.format("d"), 293, "right", {size: 8, color: "#222"});
  xAxis(x, c19Ticks, c19TickLabels, 482, {size: 8, color: "#222", rot: -90, lx: -4, ly: 0, line: "#bbb", tick: 3});
  const mx = x(parse(c19Marker));
  svg.append("line").attr("x1", mx).attr("x2", mx).attr("y1", yL(9030)).attr("y2", yL(5900))
    .attr("stroke", "#999").attr("stroke-width", 1).attr("stroke-dasharray", "4,3");
  path(c19A50, x, yR, "#2e8bd0", 1.2);
  path(c19Hxc, x, yL, "#c8202a", 1.2);
  legLine(90, 107, 338, "#c8202a", 1.3);
  txt(109, 340.5, "纳斯达克中国金龙指数(HXC.GI) HXC.GI", {size: 7.5, color: "#555"});
  legLine(90, 107, 354, "#2e8bd0", 1.3);
  txt(109, 356.5, "SGX A50指数期货（右轴）", {size: 7.5, color: "#555"});
  txt(23, 350, "（点）", {size: 7.5, color: "#888"});
  txt(280, 350, "（点）", {size: 7.5, color: "#888"});
}

// ---------- Fig 20 ----------
{
  const x = d3.scaleTime().domain([parse("2025-04-17"), parse("2026-04-17")]).range([369.7, 621.3]);
  const yL = d3.scaleLinear().domain([7, 13]).range([490, 365]);
  const yR = d3.scaleLinear().domain([3500, 7000]).range([490, 355.7]);
  yAxis(yL, c20LeftTicks, d3.format("d"), 363, "left", {size: 7.5, color: "#222"});
  yAxis(yR, c20RightTicks, d3.format(","), 625, "right", {size: 7.5, color: "#222"});
  xAxis(x, month17Ticks, month17Ticks, 490, {size: 7, color: "#222", rot: -90, lx: -4, ly: 0, line: "#bbb", tick: 3});
  path(c20Wind, x, yR, "#c00000", 1.2);
  path(c20Margin, x, yL, "#2f86c8", 1.2);
  legLine(423, 437, 334, "#2f86c8", 1.3);
  txt(440, 336.5, "融资买入占比", {size: 6.5, color: "#999"});
  legLine(515, 530, 334, "#c00000", 1.3);
  txt(532, 336.5, "万得全A指数（右轴）", {size: 6.5, color: "#999"});
  txt(370, 342.5, "（%）", {size: 7, color: "#999"});
  txt(614, 340.5, "（点）", {size: 7, color: "#999"});
}

// ---------- Fig 21 ----------
{
  const x = d3.scaleTime().domain([parse("2020-04-17"), parse("2026-04-17")]).range([32.3, 290.7]);
  const yL = d3.scaleLinear().domain([-850, 500]).range([788.8, 631.3]);
  const yR = d3.scaleLinear().domain([1810, 7000]).range([788.8, 631.3]);
  const bx0 = 30, bx1 = 293;
  svg.append("rect").attr("x", bx0).attr("width", bx1 - bx0).attr("y", yL(c21GreedBand[1]))
    .attr("height", yL(c21GreedBand[0]) - yL(c21GreedBand[1])).attr("fill", "#dde9f6");
  svg.append("rect").attr("x", bx0).attr("width", bx1 - bx0).attr("y", yL(c21FearBand[1]))
    .attr("height", yL(c21FearBand[0]) - yL(c21FearBand[1])).attr("fill", "#fbe4d7");
  txt(43, 651, "贪婪区间", {size: 10, color: "#6a93d4"});
  txt(45, 772, "恐惧区间", {size: 10, color: "#c0504d"});
  yAxis(yL, c21LeftTicks, d3.format("d"), 27, "left", {size: 8, color: "#222"});
  yAxis(yR, c21RightTicks, d3.format("d"), 293, "right", {size: 8, color: "#222"});
  xAxis(x, c21Ticks, c21TickLabels, 789, {size: 7, color: "#222", rot: -90, lx: -2, ly: 0});
  path(c21FG, x, yL, "#c00000", 1.2);
  path(c21SPX, x, yR, "#6687c8", 1.6);
  c21Boxes.forEach(b => {
    const a = x(parse(b[0])), c = x(parse(b[1]));
    svg.append("rect").attr("x", a).attr("width", c - a).attr("y", yL(505)).attr("height", yL(-845) - yL(505))
      .attr("fill", "none").attr("stroke", "#c00000").attr("stroke-width", 1.6);
  });
  const b0 = c21Boxes[0];
  txt((x(parse(b0[0])) + x(parse(b0[1]))) / 2, 628, c21Events[0], {size: 7, color: "#333", anchor: "middle"});
  txt(258, 628, c21Events[1], {size: 7, color: "#333", anchor: "middle"});
  txt(22, 618, "（点）", {size: 7.5, color: "#444"});
  txt(285, 618, "（点）", {size: 7.5, color: "#444"});
  legLine(62, 78, 611, "#c00000", 1.5);
  txt(80, 613.5, "彭博标普500恐惧/贪婪指数", {size: 6.8, color: "#444"});
  legLine(176, 192, 611, "#4472c4", 1.5);
  txt(195, 613.5, "标普500（右轴）", {size: 6.8, color: "#444"});
}

// ---------- Fig 22 ----------
{
  const x = d3.scaleTime().domain([parse("2025-04-17"), parse("2026-04-17")]).range([370.7, 621.3]);
  const yL = d3.scaleLinear().domain([0, 12000]).range([781, 636]);
  const yR = d3.scaleLinear().domain([0, 40]).range([781, 636]);
  svg.append("path").datum(c22Diff).attr("fill", "#bfbfbf")
    .attr("d", d3.area().x(d => x(parse(d[0]))).y0(yL(0)).y1(d => yL(d[1])));
  path(c22Share, x, yR, "#2f7fc1", 1.3);
  yAxis(yL, c22LeftTicks, d3.format(","), 363, "left", {size: 7, color: "#999"});
  yAxis(yR, c22RightTicks, d3.format(".2f"), 625, "right", {size: 7, color: "#999"});
  xAxis(x, month17Ticks, month17Ticks, 782, {size: 6, color: "#aaa", rot: -90, lx: -2, ly: 0});
  svg.append("rect").attr("x", 386).attr("y", 609.5).attr("width", 15).attr("height", 3).attr("fill", "#bfbfbf");
  txt(402, 613, "TMT成交额-红利指数成交额", {size: 6, color: "#bbb"});
  legLine(495, 508, 611, "#2f7fc1", 1.3);
  txt(511, 613, "TMT成交额占比-红利指数成交额占比之差（右轴）", {size: 6, color: "#bbb"});
  txt(352, 621, "（亿元）", {size: 7, color: "#999"});
  txt(611, 628, "（%）", {size: 7, color: "#999"});
}
</script>
</body></html>
